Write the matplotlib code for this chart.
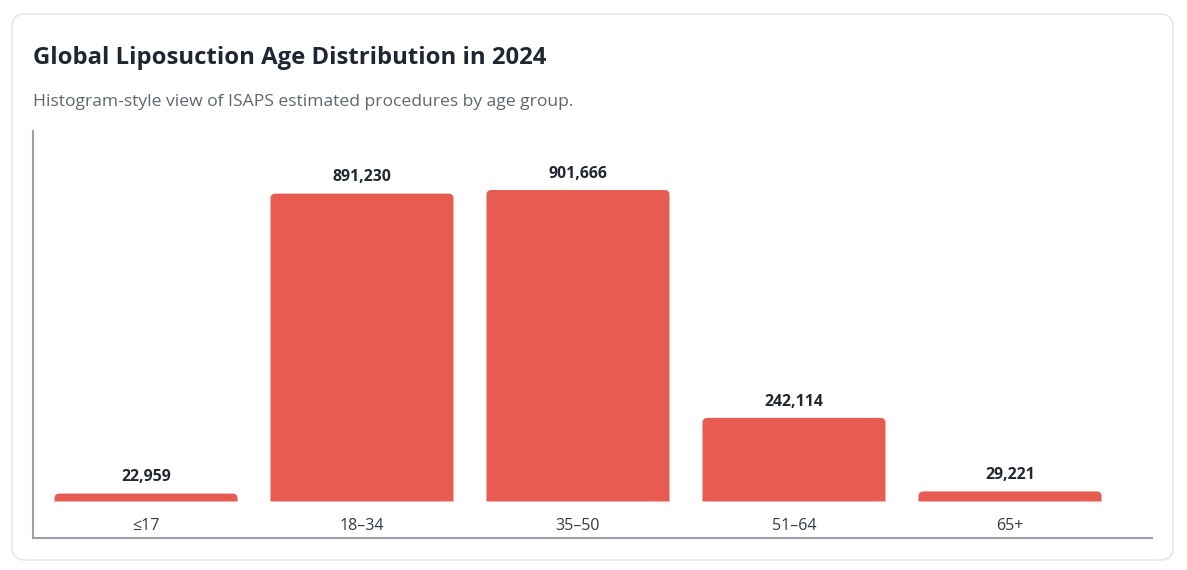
"""
Global liposuction age distribution, 2024 (ISAPS estimates).
"""
import matplotlib
matplotlib.use("Agg")
import matplotlib.pyplot as plt
from matplotlib.patches import FancyBboxPatch, PathPatch
from matplotlib.path import Path

# data
age_groups = ["≤17", "18–34", "35–50", "51–64", "65+"]
procedures = [22959, 891230, 901666, 242114, 29221]

TITLE = "Global Liposuction Age Distribution in 2024"
SUBTITLE = "Histogram-style view of ISAPS estimated procedures by age group."

BAR_COLOR = "#E85B51"
W, H = 1187, 570

plt.rcParams["font.family"] = ["Open Sans", "DejaVu Sans"]

fig = plt.figure(figsize=(W / 100, H / 100), dpi=100)


def fx(px):
    return px / W


def fy(py):
    # pixel y measured from top
    return 1 - py / H


def top_rounded_bar(x0, x1, h, rx, ry):
    """ bar outline with only the two top corners rounded """
    ry = min(ry, h)
    verts = [(x0, 0), (x0, h - ry), (x0, h), (x0 + rx, h),
             (x1 - rx, h), (x1, h), (x1, h - ry), (x1, 0), (x0, 0)]
    codes = [Path.MOVETO, Path.LINETO, Path.CURVE3, Path.CURVE3,
             Path.LINETO, Path.CURVE3, Path.CURVE3, Path.LINETO, Path.CLOSEPOLY]
    return Path(verts, codes)


# card background (behind the axes)
card = FancyBboxPatch((fx(12), fy(560)), fx(1173 - 12), (560 - 14) / H,
                      boxstyle="round,pad=0,rounding_size=0.011",
                      mutation_aspect=W / H,
                      transform=fig.transFigure, facecolor="white",
                      edgecolor="#e2e4e8", linewidth=1.0, zorder=-10)
fig.patches.append(card)

fig.text(fx(33), fy(58.5), TITLE, fontsize=17.2, fontweight="bold",
         color="#1f2733", va="center", ha="left")
fig.text(fx(33), fy(102), SUBTITLE, fontsize=12.6, color="#5f6670",
         va="center", ha="left")

# axes box: x 33..1152, y 131..538 px
ax = fig.add_axes([fx(33), fy(538), fx(1152 - 33), (538 - 131) / H])
ax.set_facecolor("none")

x = list(range(len(age_groups)))
bar_w = 183 / 216
px_per_x = 216
y_per_px = max(procedures) / 311.5
ax.set_xlim((33 - 146) / px_per_x, (1152 - 146) / px_per_x)
ax.set_ylim(-36.5 * y_per_px, 370.5 * y_per_px)

radius_px = 5
rx = radius_px / px_per_x
ry = radius_px * y_per_px
for xi, v in zip(x, procedures):
    path = top_rounded_bar(xi - bar_w / 2, xi + bar_w / 2, v, rx, ry)
    ax.add_patch(PathPatch(path, facecolor=BAR_COLOR, edgecolor="none",
                           linewidth=0))
    ax.annotate(f"{v:,}", (xi, v), xytext=(0, 11.6), textcoords="offset points",
                ha="center", va="center", fontsize=11.4, fontweight="bold",
                color="#222831")
    ax.annotate(age_groups[xi], (xi, 0), xytext=(0, -17.4),
                textcoords="offset points", ha="center", va="center",
                fontsize=11.5, color="#333a42")

for side in ["top", "right"]:
    ax.spines[side].set_visible(False)
for side in ["left", "bottom"]:
    ax.spines[side].set_color("#9aa1aa")
    ax.spines[side].set_linewidth(1.5)
ax.set_xticks([])
ax.set_yticks([])

fig.savefig("out.png", dpi=100, facecolor="white")
